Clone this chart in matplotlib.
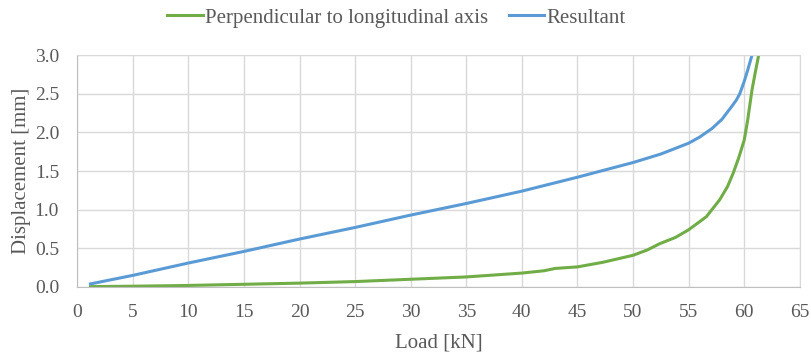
import matplotlib.pyplot as plt

perp_load = [1.2, 5, 10, 15, 20, 25, 30, 35, 40, 42, 43, 45, 47.3, 50, 51.3, 52.4, 53.8, 55, 56.6, 57.8,
             58.5, 59, 59.5, 60, 60.3, 60.7, 61.0, 61.3]
perp_disp = [0.005, 0.01, 0.02, 0.035, 0.05, 0.07, 0.1, 0.13, 0.18, 0.21, 0.24, 0.26, 0.32, 0.41, 0.48, 0.56, 0.64,
             0.74, 0.91, 1.13, 1.3, 1.47, 1.67, 1.9, 2.15, 2.55, 2.78, 3.0]

res_load = [1.2, 5, 10, 15, 20, 25, 30, 35, 40, 45, 50, 52.5, 55, 56, 57.1, 58, 58.9, 59.3, 59.6, 60, 60.3, 60.7]
res_disp = [0.04, 0.15, 0.31, 0.46, 0.62, 0.77, 0.93, 1.08, 1.24, 1.42, 1.61, 1.72, 1.86, 1.94, 2.05, 2.17, 2.34,
            2.42, 2.5, 2.66, 2.8, 3.0]

GREY = '#595959'
plt.rcParams['font.family'] = ['Liberation Serif', 'DejaVu Serif']

fig = plt.figure(figsize=(8.12, 3.53), dpi=100)
ax = fig.add_axes([0.095, 0.187, 0.89, 0.657])

ax.plot(perp_load, perp_disp, color='#70ad47', lw=2.2, label='Perpendicular to longitudinal axis')
ax.plot(res_load, res_disp, color='#5b9bd5', lw=2.2, label='Resultant')

ax.set_xlim(0, 65)
ax.set_ylim(0, 3.0)
ax.set_xticks(range(0, 66, 5))
ax.set_yticks([0, 0.5, 1.0, 1.5, 2.0, 2.5, 3.0])
ax.set_yticklabels([f'{v:.1f}' for v in ax.get_yticks()])
ax.grid(True, color='#d9d9d9', lw=1)
ax.set_axisbelow(True)
ax.tick_params(length=0, labelsize=14, colors=GREY)
ax.tick_params(axis='x', pad=12)
ax.tick_params(axis='y', pad=13)
for s in ['top', 'right']:
    ax.spines[s].set_color('#d9d9d9')
for s in ['left', 'bottom']:
    ax.spines[s].set_color('#bfbfbf')

ax.set_xlabel('Load [kN]', fontsize=15, color=GREY, labelpad=9)
ax.set_ylabel('Displacement [mm]', fontsize=15, color=GREY, labelpad=3)

leg = fig.legend(loc='upper center', bbox_to_anchor=(0.488, 1.03), ncol=2, frameon=False,
                 fontsize=15, handlelength=1.7, handletextpad=0.1, columnspacing=1.0)
for t in leg.get_texts():
    t.set_color(GREY)

fig.savefig('out.png', dpi=100)
